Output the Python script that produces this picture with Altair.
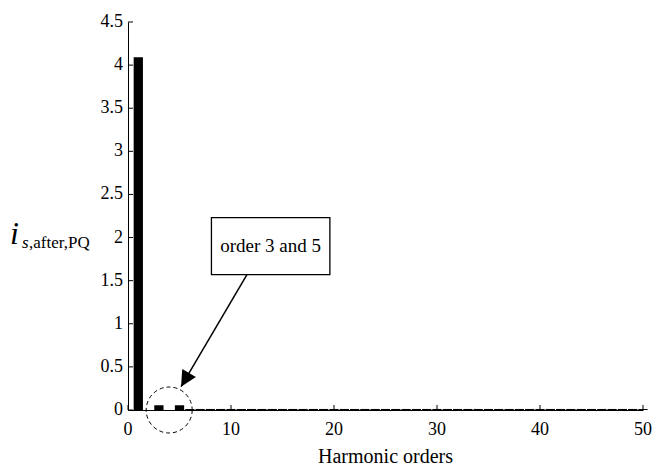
import math
import altair as alt
import pandas as pd

# Harmonic spectrum of the source current after PQ compensation
orders = list(range(1, 51))
magnitudes = [
    4.09, 0.0, 0.055, 0.0, 0.055, 0.012, 0.012, 0.012, 0.012, 0.012,
    0.012, 0.012, 0.012, 0.012, 0.012, 0.012, 0.012, 0.012, 0.012, 0.012,
    0.012, 0.012, 0.012, 0.012, 0.012, 0.012, 0.012, 0.012, 0.012, 0.012,
    0.012, 0.012, 0.012, 0.012, 0.012, 0.012, 0.012, 0.012, 0.012, 0.012,
    0.012, 0.012, 0.012, 0.012, 0.012, 0.012, 0.012, 0.012, 0.012, 0.012,
]
x_ticks = [0, 10, 20, 30, 40, 50]
x_tick_labels = ["0", "10", "20", "30", "40", "50"]
y_ticks = [0, 0.5, 1, 1.5, 2, 2.5, 3, 3.5, 4, 4.5]
y_tick_labels = ["0", "0.5", "1", "1.5", "2", "2.5", "3", "3.5", "4", "4.5"]
x_title = "Harmonic orders"

# Call-out pointing at the 3rd and 5th harmonics (data units)
callout_text = ["order 3 and 5"]
box_x = [8.1, 19.6]
box_y = [1.57, 2.23]
arrow_from = [11.55, 1.57]
arrow_to = [5.15, 0.27]
ring_center = [4.0, 0.0]

W, H = 515, 388
X_MAX, Y_MAX = 50, 4.5
FONT = "Liberation Serif"
BAR_W = 0.9

px_x = W / X_MAX
px_y = H / Y_MAX
dx = (arrow_to[0] - arrow_from[0]) * px_x
dy = -(arrow_to[1] - arrow_from[1]) * px_y
head_angle = (math.degrees(math.atan2(dx, -dy)) + 360) % 360

xs = alt.Scale(domain=[0, X_MAX], nice=False, zero=False)
ys = alt.Scale(domain=[0, Y_MAX], nice=False)

# axis lines only; ticks and labels are drawn as marks below
x_axis = alt.Axis(values=x_ticks, title=None, labels=False, ticks=False)
y_axis = alt.Axis(values=y_ticks, title=None, labels=False, ticks=False)


def X(field):
    return alt.X(field, scale=xs, axis=x_axis)


def Y(field):
    return alt.Y(field, scale=ys, axis=y_axis)


spectrum = pd.DataFrame({"order": orders, "mag": magnitudes})

bars = (
    alt.Chart(spectrum)
    .transform_calculate(lo=f"datum.order - {BAR_W / 2}", hi=f"datum.order + {BAR_W / 2}",
                         base="0")
    .mark_rect(color="black", stroke=None)
    .encode(x=X("lo:Q"), x2="hi:Q", y=Y("mag:Q"), y2="base:Q")
)

yt = pd.DataFrame({"v": y_ticks, "lab": y_tick_labels})
xt = pd.DataFrame({"v": x_ticks, "lab": x_tick_labels})

ytick_marks = (
    alt.Chart(yt).mark_rule(color="black", strokeWidth=1)
    .encode(y=Y("v:Q"), x=alt.value(0), x2=alt.value(5))
)
xtick_marks = (
    alt.Chart(xt).mark_rule(color="black", strokeWidth=1)
    .encode(x=X("v:Q"), y=alt.value(H), y2=alt.value(H - 5))
)
ytick_labels = (
    alt.Chart(yt).mark_text(font=FONT, fontSize=18, color="black", align="right",
                            baseline="middle")
    .encode(y=Y("v:Q"), x=alt.value(-5), text="lab:N")
)
xtick_labels = (
    alt.Chart(xt).mark_text(font=FONT, fontSize=18, color="black", align="center",
                            baseline="alphabetic")
    .encode(x=X("v:Q"), y=alt.value(H + 25), text="lab:N")
)
x_title_mark = (
    alt.Chart(pd.DataFrame({"t": [x_title]}))
    .mark_text(font=FONT, fontSize=20, color="black", align="center", baseline="alphabetic")
    .encode(text="t:N", x=alt.value(W / 2), y=alt.value(H + 53))
)

ring = (
    alt.Chart(pd.DataFrame({"cx": [ring_center[0]], "cy": [ring_center[1]]}))
    .mark_point(shape="circle", filled=False, size=2116, color="black",
                strokeWidth=1, strokeDash=[4, 3], opacity=1)
    .encode(x=X("cx:Q"), y=Y("cy:Q"))
)

box = (
    alt.Chart(pd.DataFrame({"x0": [box_x[0]], "x1": [box_x[1]], "y0": [box_y[0]], "y1": [box_y[1]]}))
    .mark_rect(fill="white", stroke="black", strokeWidth=1.3)
    .encode(x=X("x0:Q"), x2="x1:Q", y=Y("y0:Q"), y2="y1:Q")
)

box_label = (
    alt.Chart(pd.DataFrame({"tx": [(box_x[0] + box_x[1]) / 2], "ty": [(box_y[0] + box_y[1]) / 2],
                            "label": callout_text}))
    .mark_text(font=FONT, fontSize=19, color="black", align="center", baseline="middle")
    .encode(x=X("tx:Q"), y=Y("ty:Q"), text="label:N")
)

arrow_line = (
    alt.Chart(pd.DataFrame({"x0": [arrow_from[0]], "y0": [arrow_from[1]],
                            "x1": [arrow_to[0]], "y1": [arrow_to[1]]}))
    .mark_rule(color="black", strokeWidth=1.5)
    .encode(x=X("x0:Q"), y=Y("y0:Q"), x2="x1:Q", y2="y1:Q")
)

arrow_head = (
    alt.Chart(pd.DataFrame({"hx": [arrow_to[0]], "hy": [arrow_to[1]]}))
    .mark_point(shape="M0,0 L-0.5,1 L0.5,1 Z", filled=True, size=1000, color="black",
                opacity=1, angle=head_angle)
    .encode(x=X("hx:Q"), y=Y("hy:Q"))
)

# y-axis label i_{s,after,PQ}
y_main = (
    alt.Chart(pd.DataFrame({"t": ["i"]}))
    .mark_text(font=FONT, fontSize=32, fontStyle="italic", align="left", baseline="alphabetic",
               color="black")
    .encode(text="t:N", x=alt.value(-118), y=alt.value(222))
)
y_sub_s = (
    alt.Chart(pd.DataFrame({"t": ["s"]}))
    .mark_text(font=FONT, fontSize=17, fontStyle="italic", align="left", baseline="alphabetic",
               color="black")
    .encode(text="t:N", x=alt.value(-106), y=alt.value(226))
)
y_sub_rest = (
    alt.Chart(pd.DataFrame({"t": [",after,PQ"]}))
    .mark_text(font=FONT, fontSize=17, align="left", baseline="alphabetic", color="black")
    .encode(text="t:N", x=alt.value(-99), y=alt.value(226))
)

chart = (
    alt.layer(bars, ytick_marks, xtick_marks, ytick_labels, xtick_labels, x_title_mark,
              ring, arrow_line, arrow_head, box, box_label, y_main, y_sub_s, y_sub_rest)
    .properties(width=W, height=H,
                autosize=alt.AutoSizeParams(type="none"),
                padding={"left": 128, "top": 22, "right": 17, "bottom": 64},
                background="white")
    .configure_view(stroke=None)
    .configure_axis(domainColor="black", domainWidth=1, grid=False)
)

chart.save("out.html", embed_options={"renderer": "svg", "actions": False})
